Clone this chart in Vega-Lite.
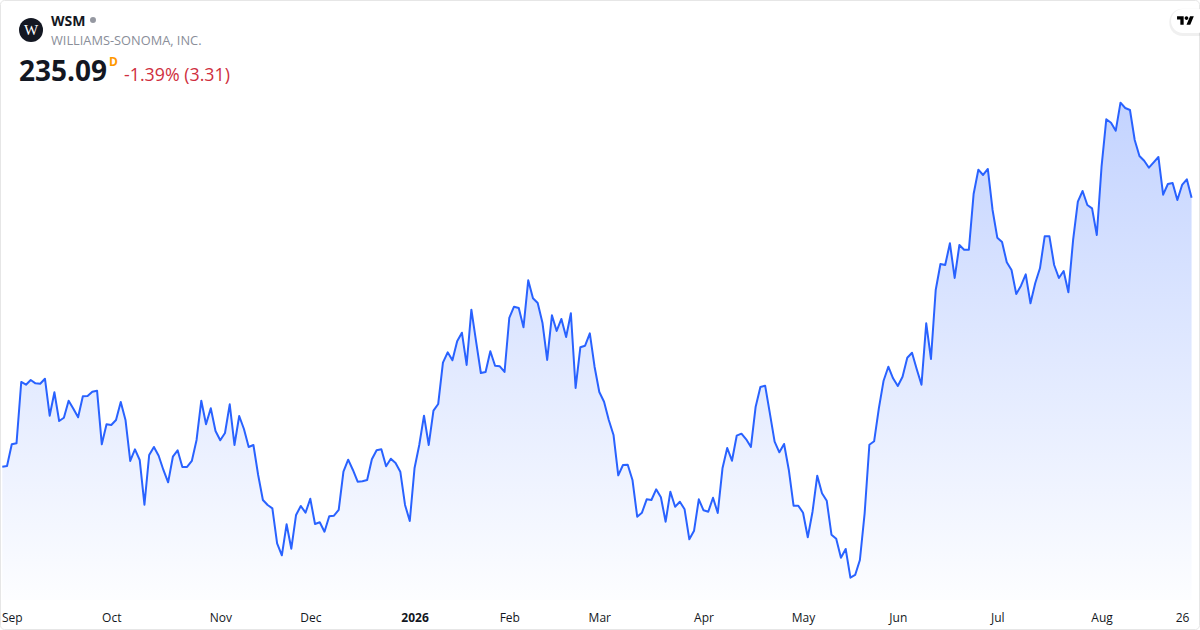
{
  "$schema": "https://vega.github.io/schema/vega-lite/v6.json",
  "width": 1200,
  "height": 600,
  "autosize": "none",
  "padding": {"left": 0, "top": 0, "right": 0, "bottom": 30},
  "background": "white",
  "config": {
    "view": {"stroke": null},
    "text": {"font": "Open Sans", "baseline": "middle", "align": "left"}
  },
  "datasets": {
    "prices": [
      {"day":0,"date":"2025-08-28","close":186.67},{"day":1,"date":"2025-08-29","close":186.80},
      {"day":2,"date":"2025-09-02","close":190.70},{"day":3,"date":"2025-09-03","close":190.88},{"day":4,"date":"2025-09-04","close":201.92},{"day":5,"date":"2025-09-05","close":201.43},{"day":6,"date":"2025-09-08","close":202.28},{"day":7,"date":"2025-09-09","close":201.68},{"day":8,"date":"2025-09-10","close":201.61},{"day":9,"date":"2025-09-11","close":202.51},{"day":10,"date":"2025-09-12","close":195.85},{"day":11,"date":"2025-09-15","close":200.06},{"day":12,"date":"2025-09-16","close":194.90},{"day":13,"date":"2025-09-17","close":195.49},{"day":14,"date":"2025-09-18","close":198.55},{"day":15,"date":"2025-09-19","close":197.11},{"day":16,"date":"2025-09-22","close":195.56},{"day":17,"date":"2025-09-23","close":199.34},{"day":18,"date":"2025-09-24","close":199.40},{"day":19,"date":"2025-09-25","close":200.17},{"day":20,"date":"2025-09-26","close":200.35},{"day":21,"date":"2025-09-29","close":190.70},{"day":22,"date":"2025-09-30","close":194.30},
      {"day":23,"date":"2025-10-01","close":194.18},{"day":24,"date":"2025-10-02","close":195.08},{"day":25,"date":"2025-10-03","close":198.32},{"day":26,"date":"2025-10-06","close":195.08},{"day":27,"date":"2025-10-07","close":187.70},{"day":28,"date":"2025-10-08","close":189.80},{"day":29,"date":"2025-10-09","close":187.88},{"day":30,"date":"2025-10-10","close":179.83},{"day":31,"date":"2025-10-13","close":188.78},{"day":32,"date":"2025-10-14","close":190.22},{"day":33,"date":"2025-10-15","close":188.65},{"day":34,"date":"2025-10-16","close":186.08},{"day":35,"date":"2025-10-17","close":183.86},{"day":36,"date":"2025-10-20","close":188.47},{"day":37,"date":"2025-10-21","close":189.62},{"day":38,"date":"2025-10-22","close":186.62},{"day":39,"date":"2025-10-23","close":186.62},{"day":40,"date":"2025-10-24","close":187.70},{"day":41,"date":"2025-10-27","close":191.48},{"day":42,"date":"2025-10-28","close":198.55},{"day":43,"date":"2025-10-29","close":194.30},{"day":44,"date":"2025-10-30","close":197.18},{"day":45,"date":"2025-10-31","close":193.10},
      {"day":46,"date":"2025-11-03","close":191.42},{"day":47,"date":"2025-11-04","close":192.74},{"day":48,"date":"2025-11-05","close":197.90},{"day":49,"date":"2025-11-06","close":190.58},{"day":50,"date":"2025-11-07","close":195.80},{"day":51,"date":"2025-11-10","close":193.46},{"day":52,"date":"2025-11-11","close":190.22},{"day":53,"date":"2025-11-12","close":190.58},{"day":54,"date":"2025-11-13","close":185.18},{"day":55,"date":"2025-11-14","close":180.68},{"day":56,"date":"2025-11-17","close":179.78},{"day":57,"date":"2025-11-18","close":179.18},{"day":58,"date":"2025-11-19","close":172.88},{"day":59,"date":"2025-11-20","close":170.72},{"day":60,"date":"2025-11-21","close":176.30},{"day":61,"date":"2025-11-24","close":171.91},{"day":62,"date":"2025-11-25","close":177.98},{"day":63,"date":"2025-11-26","close":179.60},{"day":64,"date":"2025-11-28","close":178.39},
      {"day":65,"date":"2025-12-01","close":180.91},{"day":66,"date":"2025-12-02","close":176.36},{"day":67,"date":"2025-12-03","close":176.66},{"day":68,"date":"2025-12-04","close":174.97},{"day":69,"date":"2025-12-05","close":177.74},{"day":70,"date":"2025-12-08","close":177.85},{"day":71,"date":"2025-12-09","close":178.88},{"day":72,"date":"2025-12-10","close":185.77},{"day":73,"date":"2025-12-11","close":187.93},{"day":74,"date":"2025-12-12","close":186.08},{"day":75,"date":"2025-12-15","close":183.97},{"day":76,"date":"2025-12-16","close":184.04},{"day":77,"date":"2025-12-17","close":184.28},{"day":78,"date":"2025-12-18","close":188.00},{"day":79,"date":"2025-12-19","close":189.62},{"day":80,"date":"2025-12-22","close":189.80},{"day":81,"date":"2025-12-23","close":186.74},{"day":82,"date":"2025-12-24","close":188.11},{"day":83,"date":"2025-12-26","close":187.34},{"day":84,"date":"2025-12-29","close":185.77},{"day":85,"date":"2025-12-30","close":179.78},{"day":86,"date":"2025-12-31","close":176.90},
      {"day":87,"date":"2026-01-02","close":186.38},{"day":88,"date":"2026-01-05","close":190.58},{"day":89,"date":"2026-01-06","close":195.85},{"day":90,"date":"2026-01-07","close":190.58},{"day":91,"date":"2026-01-08","close":196.75},{"day":92,"date":"2026-01-09","close":197.96},{"day":93,"date":"2026-01-12","close":205.39},{"day":94,"date":"2026-01-13","close":207.26},{"day":95,"date":"2026-01-14","close":205.82},{"day":96,"date":"2026-01-15","close":209.24},{"day":97,"date":"2026-01-16","close":210.79},{"day":98,"date":"2026-01-20","close":204.98},{"day":99,"date":"2026-01-21","close":214.93},{"day":100,"date":"2026-01-22","close":209.17},{"day":101,"date":"2026-01-23","close":203.54},{"day":102,"date":"2026-01-26","close":203.72},{"day":103,"date":"2026-01-27","close":207.44},{"day":104,"date":"2026-01-28","close":204.85},{"day":105,"date":"2026-01-29","close":204.74},{"day":106,"date":"2026-01-30","close":203.72},
      {"day":107,"date":"2026-02-02","close":213.44},{"day":108,"date":"2026-02-03","close":215.47},{"day":109,"date":"2026-02-04","close":215.24},{"day":110,"date":"2026-02-05","close":211.76},{"day":111,"date":"2026-02-06","close":220.22},{"day":112,"date":"2026-02-09","close":216.98},{"day":113,"date":"2026-02-10","close":216.14},{"day":114,"date":"2026-02-11","close":212.59},{"day":115,"date":"2026-02-12","close":205.88},{"day":116,"date":"2026-02-13","close":213.92},{"day":117,"date":"2026-02-17","close":211.10},{"day":118,"date":"2026-02-18","close":213.26},{"day":119,"date":"2026-02-19","close":210.02},{"day":120,"date":"2026-02-20","close":214.28},{"day":121,"date":"2026-02-23","close":200.84},{"day":122,"date":"2026-02-24","close":208.16},{"day":123,"date":"2026-02-25","close":208.45},{"day":124,"date":"2026-02-26","close":210.68},{"day":125,"date":"2026-02-27","close":204.67},
      {"day":126,"date":"2026-03-02","close":200.12},{"day":127,"date":"2026-03-03","close":198.37},{"day":128,"date":"2026-03-04","close":195.08},{"day":129,"date":"2026-03-05","close":192.38},{"day":130,"date":"2026-03-06","close":185.12},{"day":131,"date":"2026-03-09","close":186.98},{"day":132,"date":"2026-03-10","close":187.03},{"day":133,"date":"2026-03-11","close":184.28},{"day":134,"date":"2026-03-12","close":177.67},{"day":135,"date":"2026-03-13","close":178.39},{"day":136,"date":"2026-03-16","close":180.80},{"day":137,"date":"2026-03-17","close":180.68},{"day":138,"date":"2026-03-18","close":182.60},{"day":139,"date":"2026-03-19","close":181.16},{"day":140,"date":"2026-03-20","close":176.77},{"day":141,"date":"2026-03-23","close":182.17},{"day":142,"date":"2026-03-24","close":179.47},{"day":143,"date":"2026-03-25","close":180.37},{"day":144,"date":"2026-03-26","close":179.00},{"day":145,"date":"2026-03-27","close":173.60},{"day":146,"date":"2026-03-30","close":175.15},{"day":147,"date":"2026-03-31","close":180.80},
      {"day":148,"date":"2026-04-01","close":178.82},{"day":149,"date":"2026-04-02","close":178.57},{"day":150,"date":"2026-04-06","close":181.09},{"day":151,"date":"2026-04-07","close":178.34},{"day":152,"date":"2026-04-08","close":186.38},{"day":153,"date":"2026-04-09","close":190.04},{"day":154,"date":"2026-04-10","close":187.75},{"day":155,"date":"2026-04-13","close":192.25},{"day":156,"date":"2026-04-14","close":192.61},{"day":157,"date":"2026-04-15","close":191.60},{"day":158,"date":"2026-04-16","close":190.22},{"day":159,"date":"2026-04-17","close":197.47},{"day":160,"date":"2026-04-20","close":201.02},{"day":161,"date":"2026-04-21","close":201.25},{"day":162,"date":"2026-04-22","close":196.28},{"day":163,"date":"2026-04-23","close":191.17},{"day":164,"date":"2026-04-24","close":189.26},{"day":165,"date":"2026-04-27","close":190.76},{"day":166,"date":"2026-04-28","close":186.08},{"day":167,"date":"2026-04-29","close":179.65},{"day":168,"date":"2026-04-30","close":179.65},
      {"day":169,"date":"2026-05-01","close":178.39},{"day":170,"date":"2026-05-04","close":173.96},{"day":171,"date":"2026-05-05","close":178.57},{"day":172,"date":"2026-05-06","close":185.05},{"day":173,"date":"2026-05-07","close":181.88},{"day":174,"date":"2026-05-08","close":180.55},{"day":175,"date":"2026-05-11","close":174.43},{"day":176,"date":"2026-05-12","close":173.71},{"day":177,"date":"2026-05-13","close":170.29},{"day":178,"date":"2026-05-14","close":171.86},{"day":179,"date":"2026-05-15","close":166.69},{"day":180,"date":"2026-05-18","close":167.18},{"day":181,"date":"2026-05-19","close":169.88},{"day":182,"date":"2026-05-20","close":178.28},{"day":183,"date":"2026-05-21","close":190.63},{"day":184,"date":"2026-05-22","close":191.24},{"day":185,"date":"2026-05-26","close":197.18},{"day":186,"date":"2026-05-27","close":202.15},{"day":187,"date":"2026-05-28","close":204.67},{"day":188,"date":"2026-05-29","close":202.58},
      {"day":189,"date":"2026-06-01","close":201.20},{"day":190,"date":"2026-06-02","close":202.87},{"day":191,"date":"2026-06-03","close":206.29},{"day":192,"date":"2026-06-04","close":207.19},{"day":193,"date":"2026-06-05","close":204.20},{"day":194,"date":"2026-06-08","close":201.43},{"day":195,"date":"2026-06-09","close":212.48},{"day":196,"date":"2026-06-10","close":206.06},{"day":197,"date":"2026-06-11","close":218.48},{"day":198,"date":"2026-06-12","close":223.16},{"day":199,"date":"2026-06-15","close":222.98},{"day":200,"date":"2026-06-16","close":226.88},{"day":201,"date":"2026-06-17","close":220.64},{"day":202,"date":"2026-06-18","close":226.58},{"day":203,"date":"2026-06-22","close":225.73},{"day":204,"date":"2026-06-23","close":225.73},{"day":205,"date":"2026-06-24","close":235.76},{"day":206,"date":"2026-06-25","close":240.13},{"day":207,"date":"2026-06-26","close":239.18},{"day":208,"date":"2026-06-29","close":240.26},{"day":209,"date":"2026-06-30","close":232.88},
      {"day":210,"date":"2026-07-01","close":227.89},{"day":211,"date":"2026-07-02","close":227.12},{"day":212,"date":"2026-07-06","close":223.46},{"day":213,"date":"2026-07-07","close":222.08},{"day":214,"date":"2026-07-08","close":217.76},{"day":215,"date":"2026-07-09","close":219.25},{"day":216,"date":"2026-07-10","close":221.30},{"day":217,"date":"2026-07-13","close":216.08},{"day":218,"date":"2026-07-14","close":219.68},{"day":219,"date":"2026-07-15","close":222.38},{"day":220,"date":"2026-07-16","close":228.14},{"day":221,"date":"2026-07-17","close":228.14},{"day":222,"date":"2026-07-20","close":222.98},{"day":223,"date":"2026-07-21","close":220.64},{"day":224,"date":"2026-07-22","close":221.90},{"day":225,"date":"2026-07-23","close":218.06},{"day":226,"date":"2026-07-24","close":227.48},{"day":227,"date":"2026-07-27","close":234.37},{"day":228,"date":"2026-07-28","close":236.30},{"day":229,"date":"2026-07-29","close":233.78},{"day":230,"date":"2026-07-30","close":233.18},{"day":231,"date":"2026-07-31","close":228.38},
      {"day":232,"date":"2026-08-03","close":240.67},{"day":233,"date":"2026-08-04","close":249.20},{"day":234,"date":"2026-08-05","close":248.59},{"day":235,"date":"2026-08-06","close":247.15},{"day":236,"date":"2026-08-07","close":252.19},{"day":237,"date":"2026-08-10","close":251.24},{"day":238,"date":"2026-08-11","close":250.88},{"day":239,"date":"2026-08-12","close":245.48},{"day":240,"date":"2026-08-13","close":242.60},{"day":241,"date":"2026-08-14","close":241.75},{"day":242,"date":"2026-08-17","close":240.49},{"day":243,"date":"2026-08-18","close":241.46},{"day":244,"date":"2026-08-19","close":242.42},{"day":245,"date":"2026-08-20","close":235.63},{"day":246,"date":"2026-08-21","close":237.56},{"day":247,"date":"2026-08-24","close":237.74},{"day":248,"date":"2026-08-25","close":234.68},{"day":249,"date":"2026-08-26","close":237.38},{"day":250,"date":"2026-08-27","close":238.40},{"day":251,"date":"2026-08-28","close":235.09}
    ]
  },
  "encoding": {
    "x": {
      "type": "quantitative",
      "scale": {"domain": [-0.4854, 252.78], "nice": false, "zero": false},
      "axis": {
        "title": null,
        "grid": false,
        "domain": false,
        "ticks": false,
        "values": [2, 23, 46, 65, 87, 107, 126, 148, 169, 189, 210, 232, 249],
        "labelExpr": "['Sep','Oct','Nov','Dec','2026','Feb','Mar','Apr','May','Jun','Jul','Aug','26'][indexof([2,23,46,65,87,107,126,148,169,189,210,232,249],datum.value)]",
        "labelFont": "Open Sans",
        "labelFontSize": 12,
        "labelColor": "#131722",
        "labelPadding": 12,
        "labelOverlap": false,
        "labelBound": false,
        "labelFlush": false,
        "labelFontWeight": {"condition": {"test": "datum.value == 87", "value": 700}, "value": 400}
      }
    },
    "y": {
      "type": "quantitative",
      "scale": {"domain": [162.676, 270.676], "nice": false, "zero": false},
      "axis": null
    }
  },
  "layer": [
    {
      "data": {"name": "prices"},
      "mark": {
        "type": "area",
        "color": {
          "gradient": "linear",
          "x1": 0, "y1": 0, "x2": 0, "y2": 1,
          "stops": [
            {"offset": 0, "color": "rgba(41,98,255,0.28)"},
            {"offset": 1, "color": "rgba(41,98,255,0.01)"}
          ]
        }
      },
      "encoding": {
        "x": {"field": "day"},
        "y": {"field": "close"},
        "y2": {"datum": 162.676}
      }
    },
    {
      "data": {"name": "prices"},
      "mark": {"type": "line", "color": "#2962ff", "strokeWidth": 2, "strokeJoin": "round"},
      "encoding": {
        "x": {"field": "day"},
        "y": {"field": "close"}
      }
    },
    {
      "data": {"values": [{}]},
      "mark": {"type": "rect", "fill": "transparent", "stroke": "#e6e6e6", "strokeWidth": 1, "cornerRadius": 4, "clip": false},
      "encoding": {
        "x": {"datum": -0.38},
        "x2": {"datum": 252.67},
        "y": {"datum": 270.586},
        "y2": {"datum": 157.366}
      }
    },
    {
      "data": {"values": [{}]},
      "mark": {"type": "rect", "fill": "#000000", "opacity": 0.06, "cornerRadius": 13},
      "encoding": {
        "x": {"datum": 246.3},
        "x2": {"datum": 254.9},
        "y": {"datum": 269.1},
        "y2": {"datum": 264.2}
      }
    },
    {
      "data": {"values": [{}]},
      "mark": {"type": "rect", "fill": "#ffffff", "cornerRadius": 12},
      "encoding": {
        "x": {"datum": 246.67},
        "x2": {"datum": 254.9},
        "y": {"datum": 269.056},
        "y2": {"datum": 264.736}
      }
    },
    {
      "data": {"values": [{}]},
      "mark": {
        "type": "point",
        "filled": true,
        "opacity": 1,
        "color": "#000000",
        "size": 289,
        "shape": "M-0.222 0.5H-0.611V-0.111H-1V-0.5H-0.222ZM0.556 0.5H0.111L0.528 -0.5H0.972ZM0.111 -0.5A0.222 0.222 0 1 1 0.111 -0.056A0.222 0.222 0 1 1 0.111 -0.5Z"
      },
      "encoding": {
        "x": {"datum": 249.73},
        "y": {"datum": 266.99}
      }
    },
    {
      "data": {"values": [{}]},
      "mark": {"type": "point", "filled": true, "opacity": 1, "shape": "circle", "color": "#131722", "size": 576},
      "encoding": {
        "x": {"datum": 6.06},
        "y": {"datum": 265.28}
      }
    },
    {
      "data": {"values": [{}]},
      "mark": {"type": "text", "font": "Liberation Serif", "fontSize": 15, "color": "#ffffff", "align": "center"},
      "encoding": {
        "x": {"datum": 6.06},
        "y": {"datum": 265.28},
        "text": {"value": "W"}
      }
    },
    {
      "data": {"values": [{}]},
      "mark": {"type": "text", "fontSize": 14, "fontWeight": 700, "color": "#131722"},
      "encoding": {
        "x": {"datum": 10.28},
        "y": {"datum": 266.72},
        "text": {"value": "WSM"}
      }
    },
    {
      "data": {"values": [{}]},
      "mark": {"type": "point", "filled": true, "opacity": 1, "shape": "circle", "color": "#9598a1", "size": 36},
      "encoding": {
        "x": {"datum": 19.14},
        "y": {"datum": 267.08}
      }
    },
    {
      "data": {"values": [{}]},
      "mark": {"type": "text", "fontSize": 12.8, "color": "#8a8e99"},
      "encoding": {
        "x": {"datum": 10.28},
        "y": {"datum": 263.21},
        "text": {"value": "WILLIAMS-SONOMA, INC."}
      }
    },
    {
      "data": {"values": [{}]},
      "mark": {"type": "text", "fontSize": 28, "fontWeight": 700, "color": "#131722"},
      "encoding": {
        "x": {"datum": 3.52},
        "y": {"datum": 257.45},
        "text": {"value": "235.09"}
      }
    },
    {
      "data": {"values": [{}]},
      "mark": {"type": "text", "fontSize": 12, "fontWeight": 700, "color": "#ff9800"},
      "encoding": {
        "x": {"datum": 22.52},
        "y": {"datum": 259.43},
        "text": {"value": "D"}
      }
    },
    {
      "data": {"values": [{}]},
      "mark": {"type": "text", "fontSize": 17.8, "color": "#cf2f3e"},
      "encoding": {
        "x": {"datum": 25.69},
        "y": {"datum": 256.91},
        "text": {"value": "-1.39% (3.31)"}
      }
    }
  ]
}
